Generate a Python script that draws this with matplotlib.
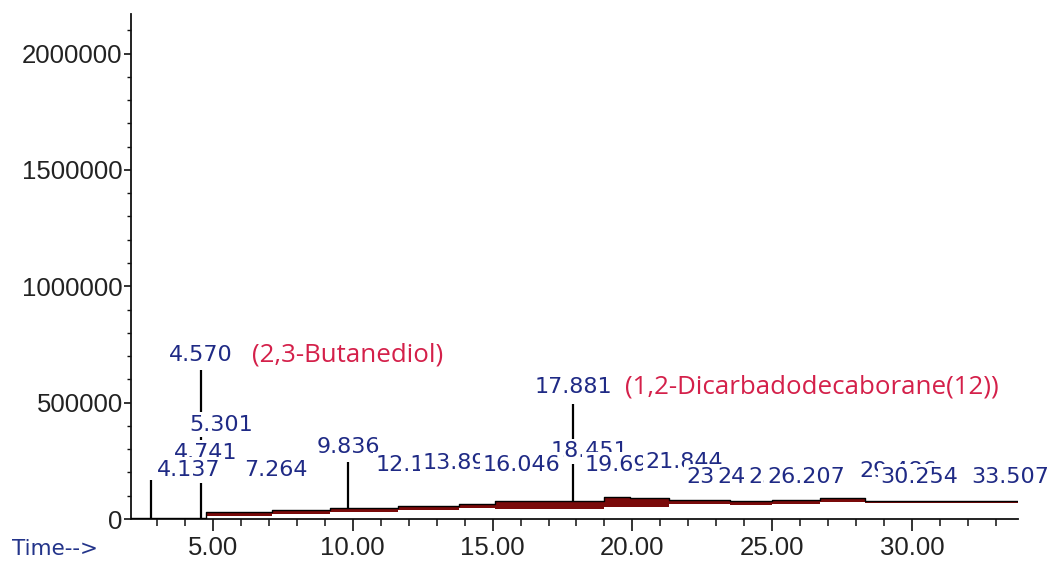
import matplotlib
matplotlib.use("Agg")
import matplotlib.pyplot as plt
from matplotlib.ticker import MultipleLocator, FuncFormatter

plt.rcParams["font.family"] = ["Liberation Sans", "DejaVu Sans"]

# ---------------- data ----------------
# stepped signal (time, top of signal, integration floor)
base_t = [2.07, 4.75, 7.1, 9.2, 11.6, 13.8, 15.1, 19.0, 19.9, 21.3, 23.5, 25.0, 26.7, 28.3, 33.79]
base_top = [4000, 28000, 39000, 47000, 56000, 65000, 79000, 95000, 90000, 82000, 78000, 82000, 90000, 79000, 79000]
base_floor = [4000, 12000, 22000, 30000, 38000, 47000, 45000, 50000, 50000, 64000, 62000, 66000, 74000, 68000, 68000]

# visible peak apexes
peak_t = [2.77, 4.570, 9.836, 17.881]
peak_h = [168000, 642000, 246000, 496000]

# retention-time labels (time, label height), drawn in this order
label_t = [4.570, 17.881, 5.301, 9.836, 18.451, 4.741, 29.486,
           4.137, 7.264, 12.193, 13.892, 16.046, 19.693, 21.844,
           23.312, 24.415, 25.528, 26.207, 30.254, 33.507]
label_v = [703000, 569000, 405000, 310000, 291000, 284000, 205000,
           211000, 211000, 232000, 241000, 232000, 232000, 246000,
           181000, 181000, 181000, 181000, 181000, 181000]

# compound names
compound_t = [4.570, 17.881]
compound_name = ["(2,3-Butanediol)", "(1,2-Dicarbadodecaborane(12))"]
compound_v = [703000, 569000]

x_major = [5, 10, 15, 20, 25, 30]
y_major = [0, 500000, 1000000, 1500000, 2000000]

# ---------------- figure ----------------
fig = plt.figure(figsize=(10.49, 5.62), dpi=100)
ax = fig.add_axes([0.1249, 0.0765, 0.8456, 0.8986])
ax.set_xlim(2.07, 33.79)
ax.set_ylim(0, 2170000)

for s in ["top", "right"]:
    ax.spines[s].set_visible(False)
for s in ["left", "bottom"]:
    ax.spines[s].set_linewidth(1.3)
    ax.spines[s].set_color("#111111")

ax.set_xticks(x_major)
ax.xaxis.set_minor_locator(MultipleLocator(1))
ax.xaxis.set_major_formatter(FuncFormatter(lambda v, p: f"{v:.2f}"))
ax.set_yticks(y_major)
ax.yaxis.set_minor_locator(MultipleLocator(100000))
ax.yaxis.set_major_formatter(FuncFormatter(lambda v, p: f"{int(v)}"))

ax.tick_params(axis="x", which="major", length=8.6, width=1.2, pad=3.5,
               labelsize=18.5, colors="#111111", labelcolor="#222222")
ax.tick_params(axis="x", which="minor", length=5, width=1.1, colors="#111111")
ax.tick_params(axis="y", which="major", length=5, width=1.2, pad=1,
               labelsize=18.5, colors="#111111", labelcolor="#222222")
ax.tick_params(axis="y", which="minor", length=3, width=1.0, colors="#111111")

# signal: integrated region (dark red) and trace (black)
ax.fill_between(base_t, base_floor, base_top, step="post", color="#7a0a0a",
                linewidth=0, zorder=2)
ax.step(base_t, base_top, where="post", color="black", linewidth=1.0, zorder=3)

# peaks
top_at = []
for t in peak_t:
    b = base_top[0]
    for bt, bv in zip(base_t, base_top):
        if bt <= t:
            b = bv
    top_at.append(b)
ax.vlines(peak_t, top_at, peak_h, color="black", linewidth=1.6, zorder=3)

# retention time labels with white boxes (later ones hide earlier ones)
for i, (t, v) in enumerate(zip(label_t, label_v)):
    ax.text(t, v, f"{t:.3f}", ha="center", va="center", fontsize=16,
            family="DejaVu Sans", color="#1f2a85", zorder=10 + i,
            bbox=dict(boxstyle="square,pad=0.12", fc="white", ec="none"))

# compound names
for t, v, name in zip(compound_t, compound_v, compound_name):
    ax.annotate(name, xy=(t, v), xytext=(37, 0), textcoords="offset points",
                ha="left", va="center", fontsize=18.6, family="Open Sans",
                color="#d4204a", zorder=50)

fig.text(0.011, 0.023, "Time-->", ha="left", va="center", fontsize=15.5,
         family="DejaVu Sans", color="#23348a")

fig.savefig("out.png", dpi=100)
